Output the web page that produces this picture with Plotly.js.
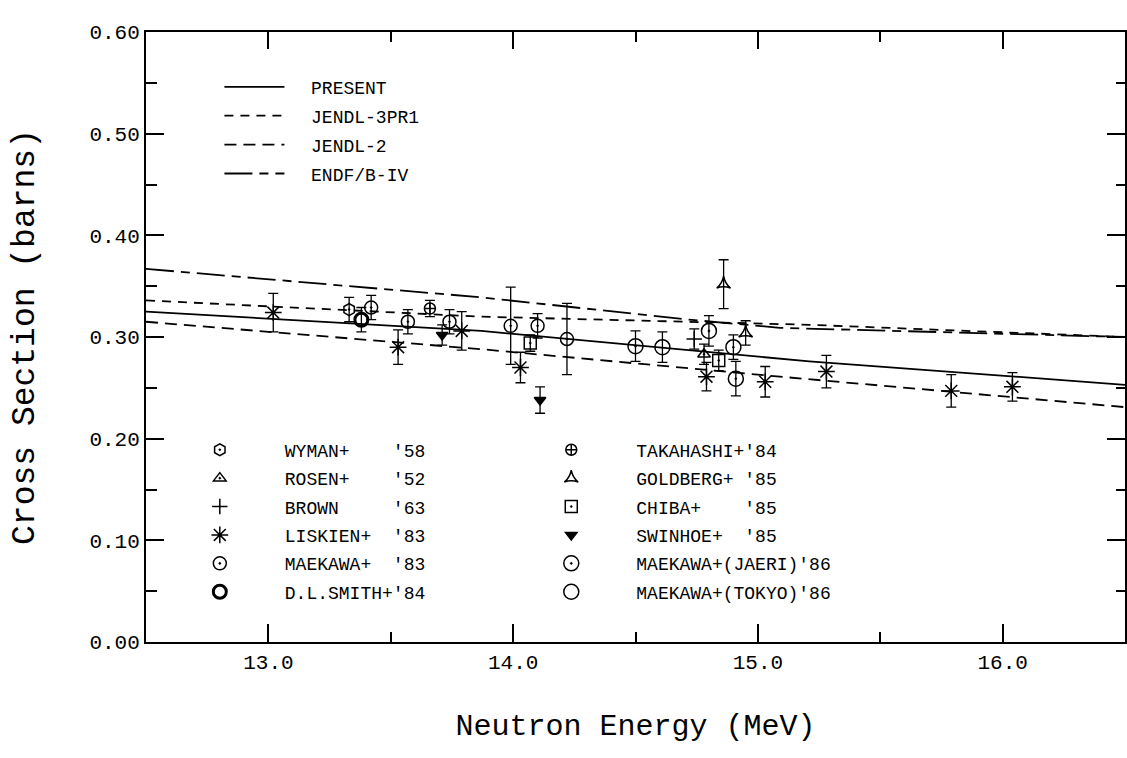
<!DOCTYPE html>
<html>
<head>
<meta charset="utf-8">
<script src="https://cdn.plot.ly/plotly-3.0.1.min.js"></script>
<style>html,body{margin:0;padding:0;background:#fff;}#chart{width:1127px;height:758px;}</style>
</head>
<body>
<div id="chart"></div>
<script>
// ---- evaluated curves ----
const energyPresent = [12.5, 13.87, 15.21, 16.5];
const xsPresent     = [0.325, 0.306, 0.276, 0.253];
const energyJendl3  = [12.5, 13.87, 15.21, 16.5];
const xsJendl3      = [0.336, 0.320, 0.312, 0.300];
const energyJendl2  = [12.5, 13.87, 15.09, 16.5];
const xsJendl2      = [0.315, 0.288, 0.261, 0.231];
const energyEndf    = [12.5, 13.87, 14.68, 15.09, 16.5];
const xsEndf        = [0.367, 0.339, 0.318, 0.309, 0.300];

// ---- measurements ----
const energyWyman = [13.33];  const xsWyman = [0.327];  const errWyman = [0.012];
const energyRosen = [14.78];  const xsRosen = [0.283];  const errRosen = [0.010];
const energyBrown = [14.74];  const xsBrown = [0.298];  const errBrown = [0.010];
const energyLiskien = [13.02, 13.53, 13.79, 14.03, 14.79, 15.03, 15.28, 15.79, 16.04];
const xsLiskien     = [0.324, 0.290, 0.306, 0.270, 0.261, 0.256, 0.266, 0.247, 0.251];
const errLiskien    = [0.019, 0.017, 0.019, 0.015, 0.014, 0.015, 0.016, 0.016, 0.014];
const energyMaekawa83 = [13.42, 13.57, 13.74, 13.99, 14.10, 14.22];
const xsMaekawa83     = [0.329, 0.315, 0.315, 0.311, 0.311, 0.298];
const errMaekawa83    = [0.012, 0.012, 0.012, 0.038, 0.012, 0.035];
const energySmith = [13.38];  const xsSmith = [0.317];  const errSmith = [0.012];
const energyTakahashi = [13.66]; const xsTakahashi = [0.328]; const errTakahashi = [0.008];
const energyGoldberg = [14.86, 14.95]; const xsGoldberg = [0.352, 0.304]; const errGoldberg = [0.024, 0.012];
const energyChiba = [14.07, 14.84]; const xsChiba = [0.294, 0.277]; const errChiba = [0.008, 0.010];
const energySwinhoe = [13.71, 14.11]; const xsSwinhoe = [0.302, 0.238]; const errSwinhoe = [0.010, 0.013];
const energyJaeri = [14.50, 14.80, 14.90, 14.91]; const xsJaeri = [0.291, 0.306, 0.290, 0.259]; const errJaeri = [0.015, 0.015, 0.012, 0.017];
const energyTokyo = [14.61]; const xsTokyo = [0.290]; const errTokyo = [0.015];

// ---- labels ----
const curveNames = ['PRESENT', 'JENDL-3PR1', 'JENDL-2', 'ENDF/B-IV'];
const nameWyman = "WYMAN+    '58";
const nameRosen = "ROSEN+    '52";
const nameBrown = "BROWN     '63";
const nameLiskien = "LISKIEN+  '83";
const nameMaekawa83 = "MAEKAWA+  '83";
const nameSmith = "D.L.SMITH+'84";
const nameTakahashi = "TAKAHASHI+'84";
const nameGoldberg = "GOLDBERG+ '85";
const nameChiba = "CHIBA+    '85";
const nameSwinhoe = "SWINHOE+  '85";
const nameJaeri = "MAEKAWA+(JAERI)'86";
const nameTokyo = "MAEKAWA+(TOKYO)'86";
const xTickVals = [13, 14, 15, 16];
const xRange = [12.5, 16.5];
const yRange = [0, 0.6];
const xTitle = 'Neutron Energy (MeV)';
const yTitle = 'Cross Section (barns)';

const nb = s => s.replace(/ /g, '\u00a0');
const FONT = 'Liberation Mono, DejaVu Sans Mono, monospace';
let gid = 0;

function curve(x, y, name, dash) {
  return {x, y, name: nb('  ' + name), mode: 'lines', type: 'scatter', legend: 'legend',
    legendgroup: 'g' + (gid++),
    line: {color: '#000', width: 1.8, dash}, hoverinfo: 'skip'};
}
function meas(x, y, err, name, symbol, size, lg, lw) {
  return {x, y, name: nb(name), mode: 'markers', type: 'scatter', legend: lg,
    legendgroup: 'g' + (gid++),
    marker: {symbol, size, color: '#000', line: {color: '#000', width: lw || 1.5}},
    error_y: {type: 'data', array: err, visible: true, color: '#000', thickness: 1.3, width: 5},
    hoverinfo: 'skip'};
}

const traces = [
  curve(energyPresent, xsPresent, curveNames[0], 'solid'),
  curve(energyJendl3, xsJendl3, curveNames[1], '9px,7px'),
  curve(energyJendl2, xsJendl2, curveNames[2], '12px,7px'),
  curve(energyEndf, xsEndf, curveNames[3], '28px,7px,9px,7px'),
  meas(energyWyman, xsWyman, errWyman, nameWyman, 'hexagon-open-dot', 12, 'legend2'),
  meas(energyRosen, xsRosen, errRosen, nameRosen, 'triangle-up-open-dot', 11, 'legend2'),
  meas(energyBrown, xsBrown, errBrown, nameBrown, 'cross-thin-open', 11, 'legend2'),
  meas(energyLiskien, xsLiskien, errLiskien, nameLiskien, 'asterisk-open', 14, 'legend2'),
  meas(energyMaekawa83, xsMaekawa83, errMaekawa83, nameMaekawa83, 'circle-open-dot', 13, 'legend2'),
  meas(energySmith, xsSmith, errSmith, nameSmith, 'circle-open', 13, 'legend2', 3),
  meas(energyTakahashi, xsTakahashi, errTakahashi, nameTakahashi, 'circle-cross-open', 11, 'legend3'),
  meas(energyGoldberg, xsGoldberg, errGoldberg, nameGoldberg, 'star-triangle-up-open', 10, 'legend3'),
  meas(energyChiba, xsChiba, errChiba, nameChiba, 'square-open-dot', 12, 'legend3'),
  meas(energySwinhoe, xsSwinhoe, errSwinhoe, nameSwinhoe, 'triangle-down', 10, 'legend3'),
  meas(energyJaeri, xsJaeri, errJaeri, nameJaeri, 'circle-open-dot', 15, 'legend3'),
  meas(energyTokyo, xsTokyo, errTokyo, nameTokyo, 'circle-open', 15, 'legend3'),
  // empty trace that only carries the top / right tick axes
  {x: [], y: [], xaxis: 'x2', yaxis: 'y2', type: 'scatter', mode: 'markers', showlegend: false, hoverinfo: 'skip'}
];

const legendBase = {font: {family: FONT, size: 18, color: '#000'}, bgcolor: 'rgba(0,0,0,0)',
  borderwidth: 0, xanchor: 'left', yanchor: 'top', orientation: 'v', tracegroupgap: 2};

const tickCommon = {ticks: 'inside', tickwidth: 2, tickcolor: '#000',
  showline: true, linewidth: 2, linecolor: '#000', showgrid: false, zeroline: false};

const layout = {
  width: 1127, height: 758,
  margin: {l: 146, r: 2, t: 32, b: 116, pad: 0},
  paper_bgcolor: '#fff', plot_bgcolor: '#fff',
  font: {family: FONT, color: '#000'},
  showlegend: true,
  xaxis: Object.assign({}, tickCommon, {
    range: xRange, tickvals: xTickVals, tickformat: '.1f', ticklen: 18,
    minor: {dtick: 0.5, ticks: 'inside', ticklen: 10, tickwidth: 2, tickcolor: '#000'},
    tickfont: {family: FONT, size: 21, color: '#000'},
    title: {text: xTitle, font: {family: FONT, size: 30, color: '#000'}, standoff: 40}
  }),
  yaxis: Object.assign({}, tickCommon, {
    range: yRange, dtick: 0.1, tickformat: '.2f', ticklen: 18,
    minor: {dtick: 0.05, ticks: 'inside', ticklen: 11, tickwidth: 2, tickcolor: '#000'},
    tickfont: {family: FONT, size: 21, color: '#000'},
    title: {text: yTitle, font: {family: FONT, size: 33, color: '#000'}, standoff: 45}
  }),
  xaxis2: Object.assign({}, tickCommon, {
    overlaying: 'x', side: 'top', anchor: 'y2',
    range: xRange, tickvals: xTickVals, ticklen: 17, showticklabels: false,
    minor: {dtick: 0.5, ticks: 'inside', ticklen: 10, tickwidth: 2, tickcolor: '#000'}
  }),
  yaxis2: Object.assign({}, tickCommon, {
    overlaying: 'y', side: 'right', anchor: 'x2',
    range: yRange, dtick: 0.1, ticklen: 18, showticklabels: false,
    minor: {dtick: 0.05, ticks: 'inside', ticklen: 9, tickwidth: 2, tickcolor: '#000'}
  }),
  legend: Object.assign({}, legendBase, {x: 0.075, y: 0.94, itemwidth: 60, tracegroupgap: 2.5}),
  legend2: Object.assign({}, legendBase, {x: 0.009, y: 0.345, itemwidth: 120}),
  legend3: Object.assign({}, legendBase, {x: 0.368, y: 0.345, itemwidth: 120})
};

Plotly.newPlot('chart', traces, layout, {staticPlot: true, displayModeBar: false});
</script>
</body>
</html>
